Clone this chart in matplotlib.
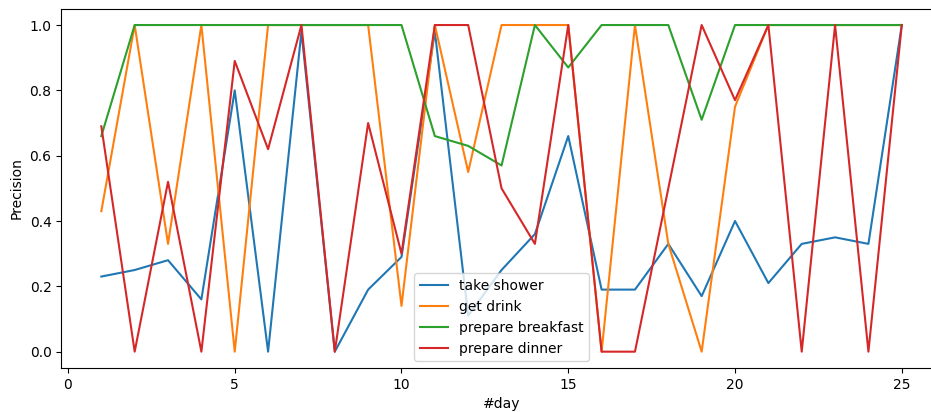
import numpy as np
import matplotlib
matplotlib.use("Agg")
import matplotlib.pyplot as plt

days = np.arange(1, 26)

take_shower = [0.23, 0.25, 0.28, 0.16, 0.80, 0.0, 0.98, 0.0, 0.19, 0.29,
               0.98, 0.11, 0.25, 0.36, 0.66, 0.19, 0.19, 0.33, 0.17, 0.40,
               0.21, 0.33, 0.35, 0.33, 1.0]
get_drink = [0.43, 1.0, 0.33, 1.0, 0.0, 1.0, 1.0, 1.0, 1.0, 0.14,
             1.0, 0.55, 1.0, 1.0, 1.0, 0.0, 1.0, 0.33, 0.0, 0.75,
             1.0, 1.0, 1.0, 1.0, 1.0]
prepare_breakfast = [0.66, 1.0, 1.0, 1.0, 1.0, 1.0, 1.0, 1.0, 1.0, 1.0,
                     0.66, 0.63, 0.57, 1.0, 0.87, 1.0, 1.0, 1.0, 0.71, 1.0,
                     1.0, 1.0, 1.0, 1.0, 1.0]
prepare_dinner = [0.69, 0.0, 0.52, 0.0, 0.89, 0.62, 1.0, 0.0, 0.70, 0.30,
                  1.0, 1.0, 0.50, 0.33, 1.0, 0.0, 0.0, 0.50, 1.0, 0.77,
                  1.0, 0.0, 1.0, 0.0, 1.0]

fig = plt.figure(figsize=(9.31, 4.12), dpi=100)
ax = fig.add_axes([61.3 / 931, 44 / 412, 880.5 / 931, 359.3 / 412])

ax.plot(days, take_shower, label='take shower')
ax.plot(days, get_drink, label='get drink')
ax.plot(days, prepare_breakfast, label='prepare breakfast')
ax.plot(days, prepare_dinner, label='prepare dinner')

ax.set_xlabel('#day')
ax.set_ylabel('Precision')
ax.legend(loc='lower center')

fig.savefig('out.png', dpi=100)
